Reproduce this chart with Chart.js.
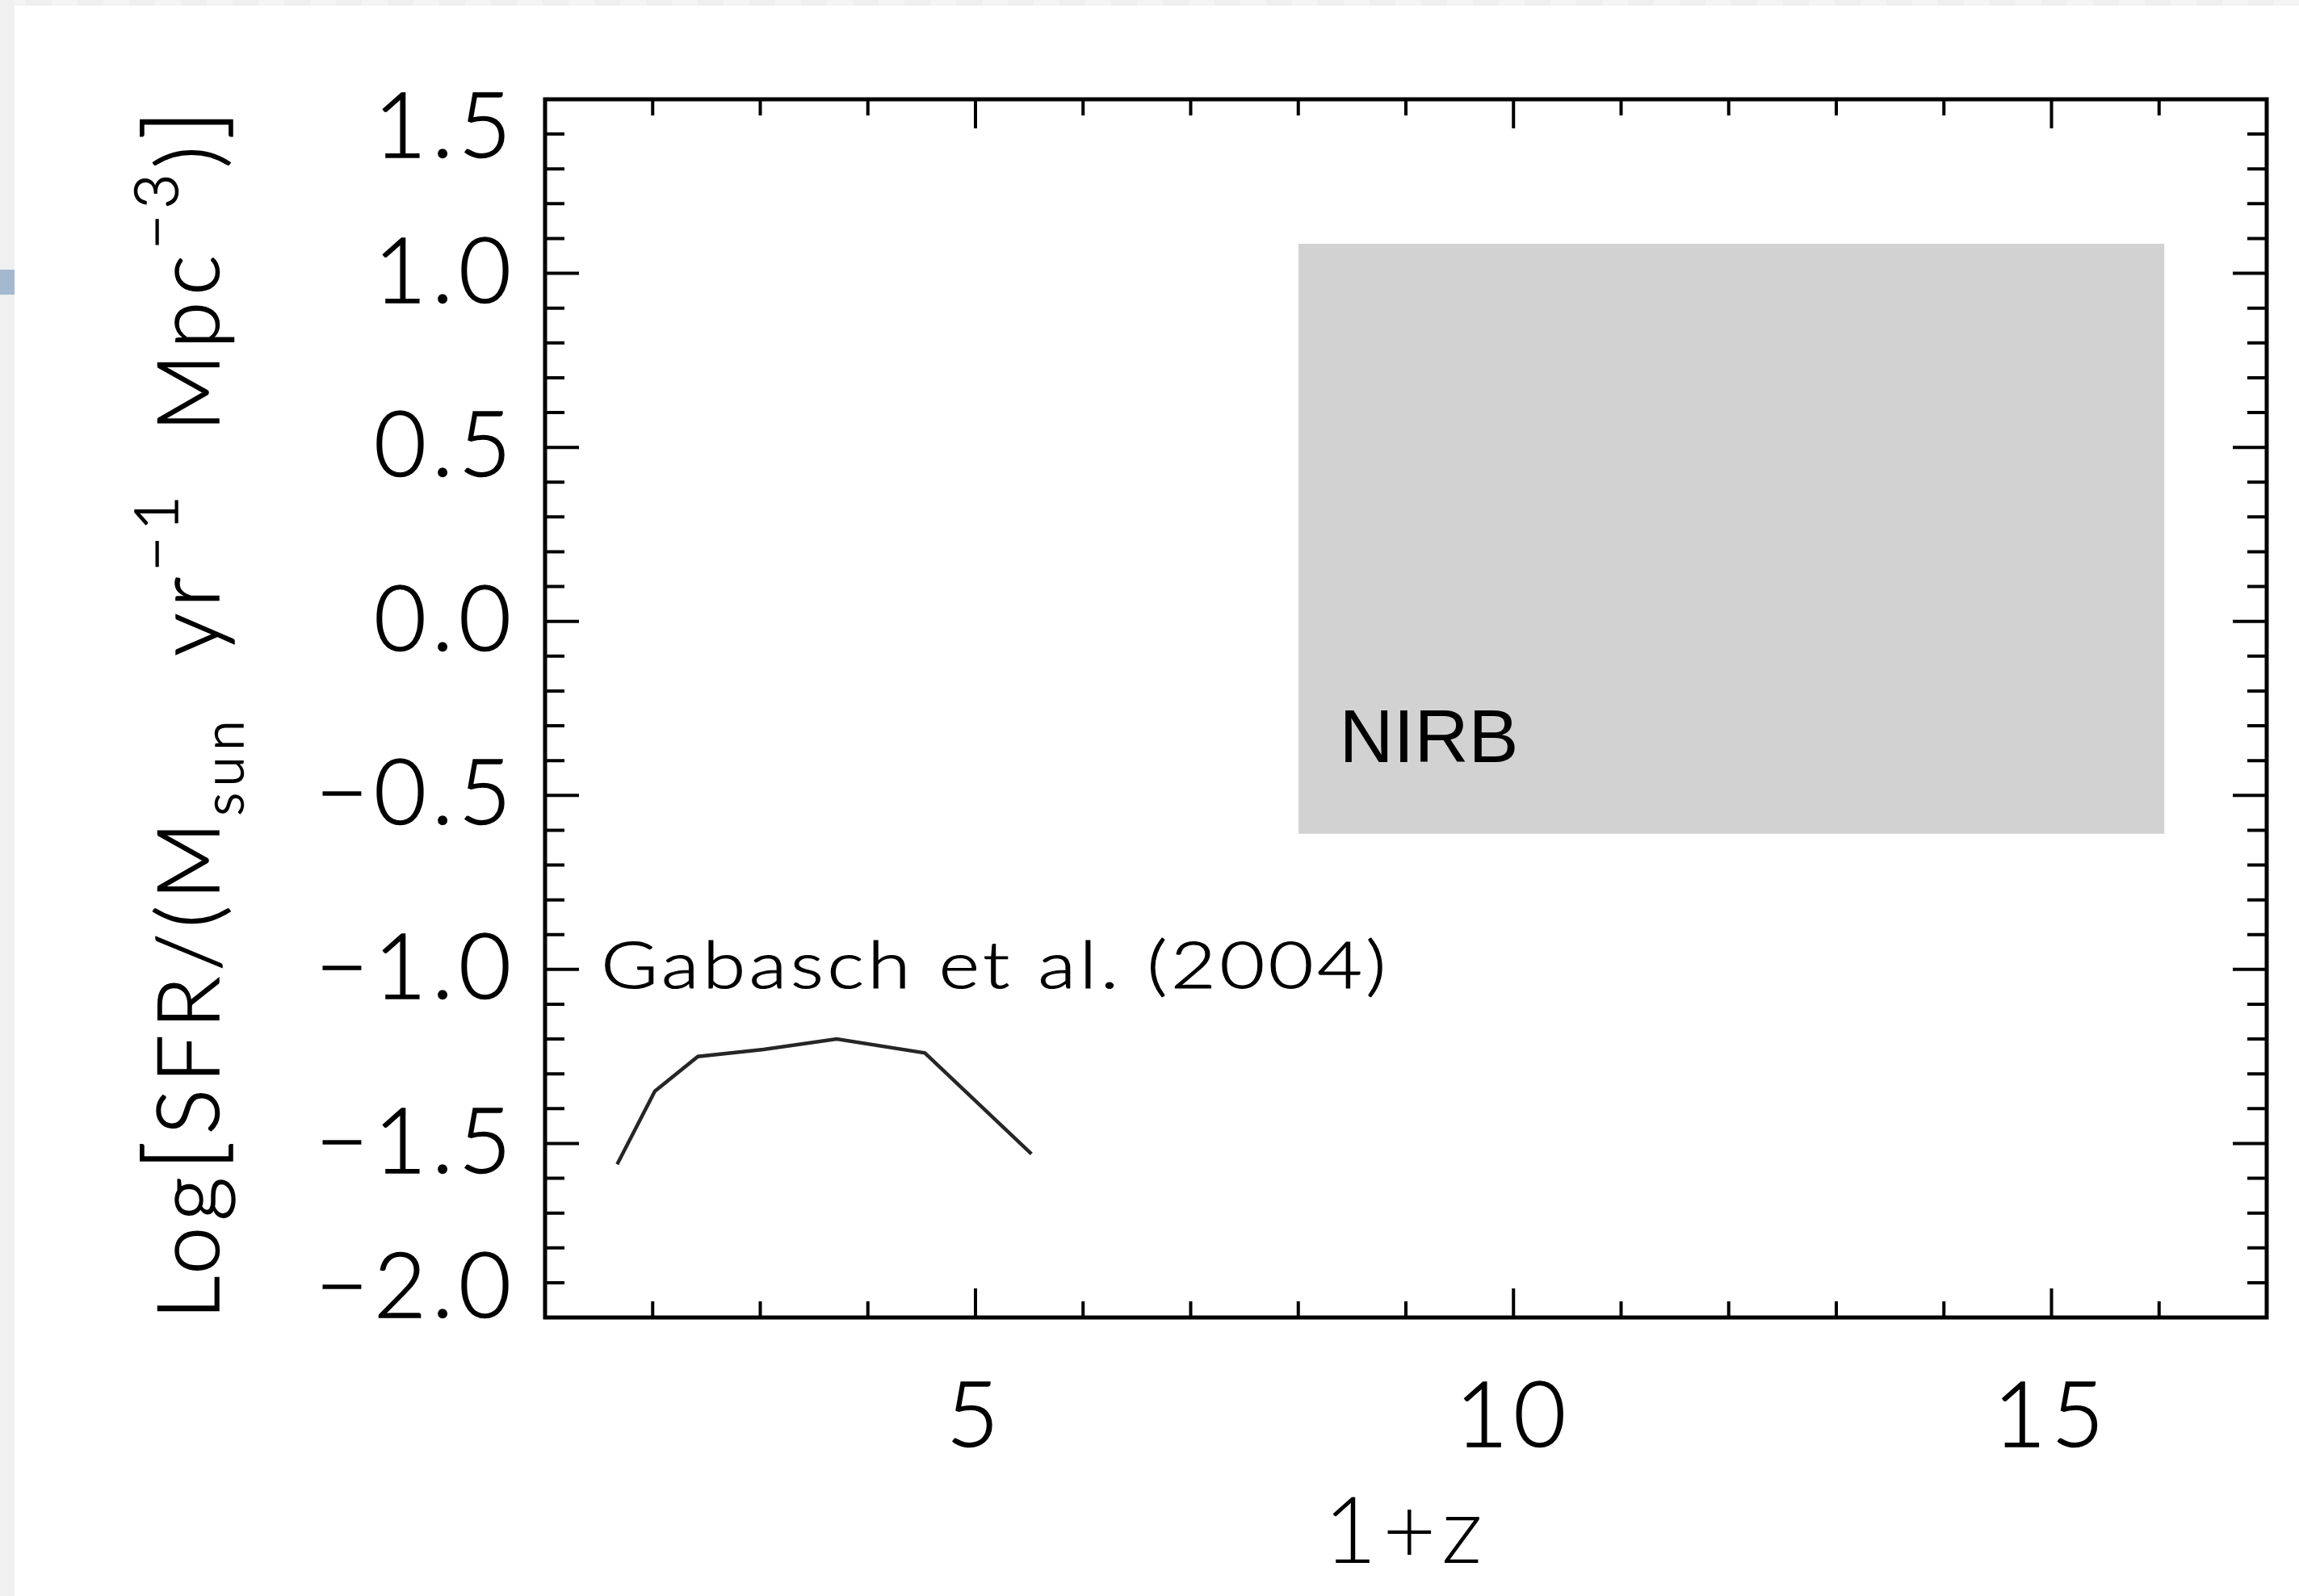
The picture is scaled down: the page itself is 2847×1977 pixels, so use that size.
<!DOCTYPE html>
<html>
<head>
<meta charset="utf-8">
<script src="https://cdn.jsdelivr.net/npm/chart.js@4.4.1/dist/chart.umd.min.js"></script>
<style>
  html, body { margin: 0; padding: 0; background: #fff; }
  body { width: 2847px; height: 1977px; position: relative; overflow: hidden; }
  #wrap { position: absolute; left: 0; top: 0; width: 2847px; height: 1977px; }
  .topStrip { position: absolute; left: 0; top: 0; width: 2847px; height: 7px;
    background: repeating-linear-gradient(90deg, #f4f4f4 0 32px, #efefef 32px 64px); }
  .leftStrip { position: absolute; left: 0; top: 0; width: 18px; height: 1977px; background: #f0f0f0; }
  .blueTab { position: absolute; left: 0; top: 334px; width: 18px; height: 31px; background: #a2b9d0; }
</style>
</head>
<body>
<div id="wrap"><canvas id="sfrChart" width="2847" height="1977"></canvas></div>
<div class="topStrip"></div>
<div class="leftStrip"></div>
<div class="blueTab"></div>
<script>
// Gabasch et al. (2004) curve: 1+z vs Log SFR density
const gabaschX = [1.67, 2.02, 2.42, 3.03, 3.71, 4.53, 5.52];
const gabaschY = [-1.56, -1.35, -1.25, -1.23, -1.20, -1.24, -1.53];

// NIRB allowed region
const nirbX = [8, 16.05];
const nirbTop = [1.085, 1.085];
const nirbBottom = -0.61;

// axes
const xRange = [1, 17];
const yRange = [-2, 1.5];
const xMajorTicks = [5, 10, 15];
const yMajorTicks = [-2.0, -1.5, -1.0, -0.5, 0.0, 0.5, 1.0, 1.5];
const xMinorStep = 1;
const yMinorStep = 0.1;

const xTitle = "1+z";
const gabaschLabel = "Gabasch et al. (2004)";
const nirbLabel = "NIRB";

// where the text labels sit (data coords, baseline)
const gabaschLabelPos = { x: 1.52, y: -1.054 };
const nirbLabelPos = { x: 8.38, y: -0.404 };

const hershey = "Lato, 'DejaVu Sans', sans-serif";

// IDL pushes the end labels of the y axis inwards
function fmtY(v) {
    const s = v.toFixed(1).replace("-", "\u2212");
    if (v === yRange[1]) return ["", s];
    if (v === yRange[0]) return [s, ""];
    return s;
}

// wider tracking for the axis text drawn by the scales
const tracking = {
    id: "tracking",
    beforeDraw(chart) {
        chart.ctx.letterSpacing = "7px";
    }
};

// box frame with inward ticks on all four sides
const frameTicks = {
    id: "frameTicks",
    afterDraw(chart) {
        const { ctx, chartArea: a, scales: { x, y } } = chart;
        ctx.save();
        ctx.strokeStyle = "#000";
        ctx.lineWidth = 4;
        const nx = Math.round((xRange[1] - xRange[0]) / xMinorStep);
        for (let i = 0; i <= nx; i++) {
            const v = xRange[0] + i * xMinorStep;
            const px = x.getPixelForValue(v);
            const len = xMajorTicks.includes(v) ? 36 : 20;
            ctx.beginPath();
            ctx.moveTo(px, a.bottom); ctx.lineTo(px, a.bottom - len);
            ctx.moveTo(px, a.top); ctx.lineTo(px, a.top + len);
            ctx.stroke();
        }
        const ny = Math.round((yRange[1] - yRange[0]) / yMinorStep);
        for (let i = 0; i <= ny; i++) {
            const v = yRange[0] + i * yMinorStep;
            const py = y.getPixelForValue(v);
            const len = i % 5 === 0 ? 42 : 24;
            ctx.beginPath();
            ctx.moveTo(a.left, py); ctx.lineTo(a.left + len, py);
            ctx.moveTo(a.right, py); ctx.lineTo(a.right - len, py);
            ctx.stroke();
        }
        ctx.lineWidth = 5;
        ctx.strokeRect(a.left, a.top, a.right - a.left, a.bottom - a.top);
        ctx.restore();
    }
};

// annotations + y axis title with sub/superscripts
const labelsPlugin = {
    id: "labelsPlugin",
    afterDatasetsDraw(chart) {
        const { ctx, scales: { x, y } } = chart;
        ctx.save();
        ctx.fillStyle = "#000";
        ctx.strokeStyle = "#000";
        ctx.textBaseline = "alphabetic";
        ctx.textAlign = "left";

        ctx.letterSpacing = "0px";
        ctx.font = "400 93px 'Liberation Sans', Arial, sans-serif";
        ctx.fillText(nirbLabel, x.getPixelForValue(nirbLabelPos.x), y.getPixelForValue(nirbLabelPos.y));

        // Gabasch label, a bit stretched like the vector font
        const stretch = 1.2;
        ctx.font = "300 80px " + hershey;
        const w = ctx.measureText(gabaschLabel).width;
        const sp = (972 / stretch - w) / (gabaschLabel.length - 1);
        ctx.translate(x.getPixelForValue(gabaschLabelPos.x), y.getPixelForValue(gabaschLabelPos.y));
        ctx.scale(stretch, 1);
        ctx.letterSpacing = sp + "px";
        ctx.lineWidth = 1.2;
        ctx.fillText(gabaschLabel, 0, 0);
        ctx.strokeText(gabaschLabel, 0, 0);
        ctx.restore();
    },
    afterDraw(chart) {
        const ctx = chart.ctx;
        const parts = [
            { t: "Log", k: "n" }, { t: "[", k: "br" }, { t: "SFR/(M", k: "n" },
            { t: "sun", k: "sub" }, { t: "  yr", k: "n" }, { t: "\u22121", k: "sup" },
            { t: "  Mpc", k: "n" }, { t: "\u22123", k: "sup" }, { t: ")", k: "n" }, { t: "]", k: "br" }
        ];
        const fonts = {
            n: "300 106px " + hershey,
            sub: "300 68px " + hershey,
            sup: "300 74px " + hershey,
            br: "300 128px " + hershey
        };
        const shift = { n: 0, sub: 30, sup: -51, br: 0 };
        ctx.save();
        let total = 0, nChars = 0;
        parts.forEach(p => {
            ctx.font = fonts[p.k];
            ctx.letterSpacing = "0px";
            p.w = ctx.measureText(p.t).width;
            total += p.w;
            nChars += p.t.length;
        });
        const target = 1499;
        const extra = (target - total) / (nChars - 1);
        ctx.translate(271, 885);
        ctx.rotate(-Math.PI / 2);
        ctx.fillStyle = "#000";
        ctx.strokeStyle = "#000";
        ctx.lineWidth = 1.5;
        ctx.textBaseline = "alphabetic";
        let cx = -target / 2;
        parts.forEach(p => {
            ctx.font = fonts[p.k];
            ctx.letterSpacing = extra + "px";
            ctx.fillText(p.t, cx, shift[p.k]);
            ctx.strokeText(p.t, cx, shift[p.k]);
            cx += p.w + extra * p.t.length;
        });
        ctx.restore();
    }
};

const tickFont = { family: hershey, size: 112, weight: "300", lineHeight: "72px" };

const ctx = document.getElementById("sfrChart").getContext("2d");
const sfrChart = new Chart(ctx, {
    type: "line",
    data: {
        datasets: [
            {
                label: nirbLabel,
                data: nirbX.map((v, i) => ({ x: v, y: nirbTop[i] })),
                fill: { value: nirbBottom },
                backgroundColor: "#d2d2d2",
                borderColor: "rgba(0,0,0,0)",
                borderWidth: 0,
                pointRadius: 0,
                order: 2
            },
            {
                label: gabaschLabel,
                data: gabaschX.map((v, i) => ({ x: v, y: gabaschY[i] })),
                fill: false,
                borderColor: "#262626",
                borderWidth: 4.5,
                pointRadius: 0,
                tension: 0,
                order: 1
            }
        ]
    },
    options: {
        responsive: false,
        animation: false,
        devicePixelRatio: 1,
        layout: { padding: { left: 0, top: 123, right: 40, bottom: 0 } },
        plugins: { legend: { display: false }, tooltip: { enabled: false } },
        scales: {
            x: {
                type: "linear",
                min: xRange[0],
                max: xRange[1],
                afterBuildTicks: s => { s.ticks = xMajorTicks.map(v => ({ value: v })); },
                afterFit: s => { s.height = 1977 - 1632; },
                grid: { display: false, drawTicks: false },
                border: { display: false },
                ticks: {
                    padding: 57,
                    color: "#000",
                    textStrokeColor: "#000",
                    textStrokeWidth: 1.5,
                    font: { family: hershey, size: 112, weight: "300" },
                    callback: v => String(v)
                },
                title: {
                    display: true,
                    text: xTitle,
                    color: "#000",
                    font: { family: hershey, size: 114, weight: "300" },
                    padding: { top: 0, bottom: 9 }
                }
            },
            y: {
                min: yRange[0],
                max: yRange[1],
                afterBuildTicks: s => { s.ticks = yMajorTicks.map(v => ({ value: v })); },
                afterFit: s => { s.width = 675; },
                grid: { display: false, drawTicks: false },
                border: { display: false },
                ticks: {
                    padding: 35,
                    color: "#000",
                    textStrokeColor: "#000",
                    textStrokeWidth: 1.5,
                    font: tickFont,
                    callback: v => fmtY(v)
                }
            }
        }
    },
    plugins: [tracking, frameTicks, labelsPlugin]
});
</script>
</body>
</html>
